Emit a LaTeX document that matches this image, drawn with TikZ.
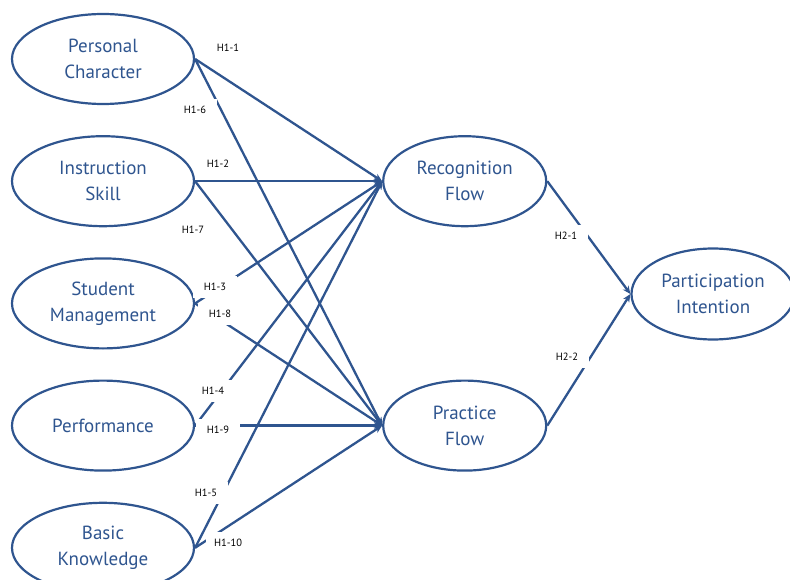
\documentclass[tikz,border=0pt]{standalone}
\usepackage{fontspec}
\setmainfont{PT Sans}
\definecolor{pathblue}{RGB}{47,85,143}
\usetikzlibrary{arrows.meta,positioning,shapes.geometric}

\begin{document}
\begin{tikzpicture}[x=1pt,y=1pt,node distance=30pt and 187pt,
  factor/.style={draw=pathblue,line width=2.2pt,ellipse,text=pathblue,align=center,inner sep=0pt,
    font=\fontsize{19}{26}\selectfont,minimum width=182pt,minimum height=90pt},
  flow/.style={factor,minimum width=163pt},
  path/.style={-{Stealth[length=8pt,width=7pt]},line width=2.3pt,pathblue},
  hyp/.style={fill=white,inner sep=0pt,minimum width=44pt,minimum height=22pt,font=\fontsize{10.5}{12}\selectfont}]
\useasboundingbox (0,0) rectangle (790,-580);
\node[factor] at (103,-59) (pc) {Personal\\Character};
\node[factor,below=of pc] (is) {Instruction\\Skill};
\node[factor,below=of is] (sm) {Student\\Management};
\node[factor,below=of sm] (pf) {Performance};
\node[factor,below=of pf] (bk) {Basic\\Knowledge};
\node[flow,right=of is] (rf) {Recognition\\Flow};
\node[flow,right=of pf] (pr) {Practice\\Flow};
\node[flow,minimum height=91pt] at (713,-294) (pi) {Participation\\Intention};
% factors -> flows
\draw[path] (pc.east) -- (rf.west);
\draw[path] (is.east) -- (rf.west);
\draw[path] (sm.east) -- (rf.west);
\draw[path] (pf.east) -- (rf.west);
\draw[path] (bk.east) -- (rf.west);
\draw[path] (pc.east) -- (pr.west);
\draw[path] (is.east) -- (pr.west);
\draw[path] (sm.east) -- (pr.west);
\draw[path] (pf.east) -- (pr.west);
\draw[path] (bk.east) -- (pr.west);
% flows -> intention
\draw[path] (rf.east) -- (pi.west);
\draw[path] (pr.east) -- (pi.west);
% hypothesis labels
\node[hyp] at (228,-48) (h11) {H1-1};
\node[hyp] at (195,-110) (h16) {H1-6};
\node[hyp] at (218,-164) (h12) {H1-2};
\node[hyp] at (193,-230) (h17) {H1-7};
\node[hyp] at (215,-287) (h13) {H1-3};
\node[hyp] at (220,-314) (h18) {H1-8};
\node[hyp] at (213,-391) (h14) {H1-4};
\node[hyp] at (218,-430) (h19) {H1-9};
\node[hyp] at (206,-493) (h15) {H1-5};
\node[hyp] at (228,-543) (h110) {H1-10};
\node[hyp] at (566,-236) (h21) {H2-1};
\node[hyp] at (567,-357) (h22) {H2-2};
\end{tikzpicture}
\end{document}
